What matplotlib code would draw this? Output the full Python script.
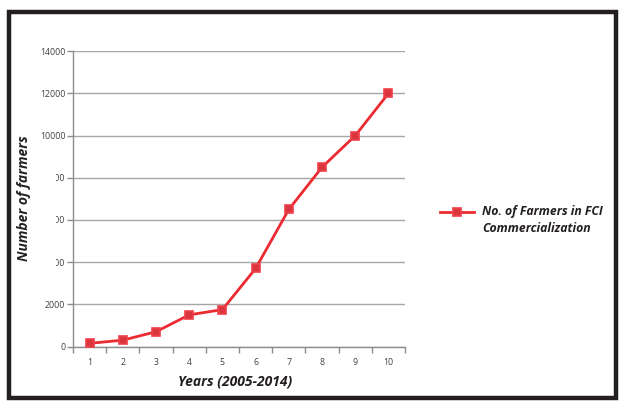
import matplotlib
matplotlib.use("Agg")
import matplotlib.pyplot as plt
from matplotlib.patches import Rectangle
from matplotlib.lines import Line2D

years = [1, 2, 3, 4, 5, 6, 7, 8, 9, 10]
farmers = [150, 300, 700, 1500, 1750, 3700, 6500, 8500, 10000, 12000]
y_ticks = [0, 2000, 4000, 6000, 8000, 10000, 12000, 14000]
series_name = "No. of Farmers in FCI\nCommercialization"
x_label = "Years (2005-2014)"
y_label = "Number of farmers"

W, H = 619, 407
fig = plt.figure(figsize=(W / 100, H / 100), dpi=100)
fig.patch.set_facecolor("white")

def fx(px):
    return px / W

def fy(py):
    return 1 - py / H

# outer frame
fig.add_artist(Rectangle((fx(9), fy(398)), fx(616) - fx(9), fy(12) - fy(398),
                         transform=fig.transFigure, fill=False,
                         edgecolor="#231f20", linewidth=3.2, zorder=0))

ax = fig.add_axes([fx(73), fy(346.5), fx(405) - fx(73), fy(51.3) - fy(346.5)])
ax.set_xlim(0.5, 10.5)
ax.set_ylim(0, 14000)

grid_c = "#a6a6a6"
ax.set_yticks(y_ticks)
ax.yaxis.grid(True, color=grid_c, linewidth=1.0)
ax.set_axisbelow(True)
for s in ["top", "right"]:
    ax.spines[s].set_visible(False)
for s in ["left", "bottom"]:
    ax.spines[s].set_color("#8c8c8c")
    ax.spines[s].set_linewidth(1.0)

ax.set_xticks([x + 0.5 for x in [0] + years])
ax.set_xticks(years, minor=True)
ax.set_xticklabels([])
ax.set_xticklabels([str(y) for y in years], minor=True)
ax.tick_params(axis="x", which="major", length=4, color="#8c8c8c", width=1)
ax.tick_params(axis="x", which="minor", length=0, pad=8, labelsize=6.3,
               labelcolor="#404040")
ax.tick_params(axis="y", length=4, color="#8c8c8c", width=1, labelsize=6.3,
               labelcolor="#404040", pad=1.5)
for lab in ax.get_xticklabels(minor=True) + ax.get_yticklabels():
    lab.set_family("Open Sans")

red = "#ec2a32"
ax.plot(years, farmers, color=red, linewidth=2.0, marker="s", markersize=6,
        markerfacecolor="#d9363e", markeredgecolor="#f0404a",
        markeredgewidth=1.2, clip_on=False, zorder=3)

fig.text(fx(235), fy(381), x_label, ha="center", va="center", fontsize=10,
         fontweight="bold", fontstyle="italic", family="Open Sans", color="#231f20")
fig.text(fx(24), fy(198), y_label, ha="center", va="center", rotation=90,
         fontsize=10, fontweight="bold", fontstyle="italic", family="Open Sans",
         color="#231f20")

# legend entry
fig.add_artist(Line2D([fx(440), fx(474)], [fy(212), fy(212)], transform=fig.transFigure,
                      color=red, linewidth=2.0))
fig.add_artist(Line2D([fx(457)], [fy(212)], transform=fig.transFigure, marker="s",
                      markersize=6, markerfacecolor="#d9363e",
                      markeredgecolor="#f0404a", markeredgewidth=1.2))
fig.text(fx(482), fy(220), series_name, ha="left", va="center", fontsize=8.8,
         fontweight="bold", fontstyle="italic", family="Open Sans",
         color="#231f20", linespacing=1.35)

# middle tick labels are partly hidden
fig.add_artist(Rectangle((fx(38), fy(270)), fx(55.5) - fx(38), fy(170) - fy(270),
                         transform=fig.transFigure, facecolor="white",
                         edgecolor="none", zorder=5))

fig.savefig("out.png", dpi=100, facecolor="white")
